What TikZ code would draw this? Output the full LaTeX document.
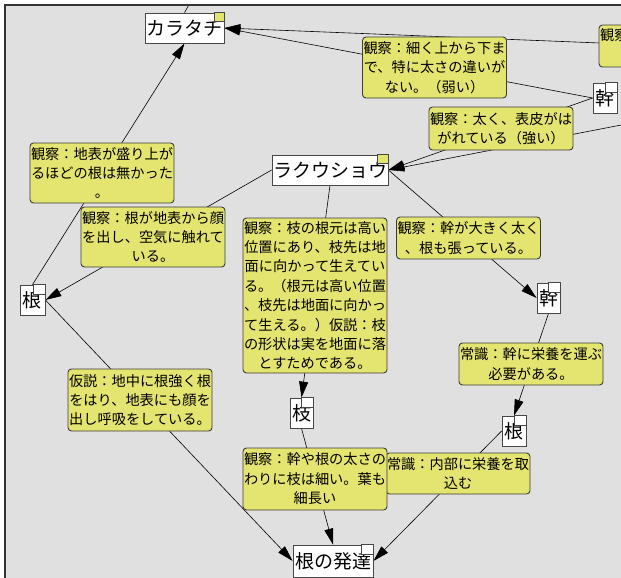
\documentclass[tikz,border=0pt]{standalone}
\usepackage{fontspec}
\newfontfamily\jp{Noto Sans CJK JP}
\usetikzlibrary{arrows.meta}
\definecolor{panel}{RGB}{224,224,224}
\definecolor{lblfill}{RGB}{228,228,112}
\definecolor{lblline}{RGB}{60,60,60}
\definecolor{nodeline}{RGB}{70,70,70}
\begin{document}
\begin{tikzpicture}[x=1pt,y=-1pt,
  lbl/.style={draw=lblline, fill=lblfill, rounded corners=3.5pt, line width=0.9pt, minimum width=144pt, inner sep=0pt, align=center, font=\jp\fontsize{14.2}{19.4}\selectfont},
  lbltext/.style={inner sep=0pt, font=\jp\fontsize{14.2}{19.4}\selectfont},
  box/.style={draw=nodeline, fill=white, line width=0.8pt, inner sep=0pt, minimum height=30pt, font=\jp\fontsize{19}{22}\selectfont},
  edge/.style={draw=black, line width=0.6pt},
  arr/.style={edge, -{Triangle[length=16pt,width=9pt]}},
  cornery/.style={draw=nodeline, fill=lblfill, line width=0.6pt},
  cornerw/.style={draw=nodeline, fill=white, line width=0.6pt},
]
\useasboundingbox (0,0) rectangle (621,578);
\fill[white] (0,0) rectangle (621,578);
\fill[panel] (5,5) rectangle (621,578);
\begin{scope}
\clip (5,5) rectangle (621,578);
% nodes (placed first so that edges can refer to them; redrawn on top later)
\node[box, minimum width=79pt] (kara) at (184.5,28) {カラタチ};
\node[box, minimum width=116pt] (raku) at (330,170) {ラクウショウ};
\node[box, minimum width=24pt] (kanT) at (605,98) {幹};
\node[box, minimum width=25pt] (neL) at (32.5,300) {根};
\node[box, minimum width=23pt] (kanM) at (548.5,298) {幹};
\node[box, minimum width=23pt] (eda) at (301.5,413) {枝};
\node[box, minimum width=24pt] (neR) at (514,431) {根};
\node[box, minimum width=80pt, minimum height=32pt] (hat) at (333,561) {根の発達};
\coordinate (offA) at (760,49.4);
\coordinate (offB) at (760,98.2);
\coordinate (offC) at (203,-20);
% edges
\draw[arr] (kanT.west) -- (kara.east);
\draw[arr] (offA) -- (kara.east);
\draw[edge] (kara.north) -- (offC);
\draw[arr] (kanT.west) -- (raku.east);
\draw[arr] (offB) -- (raku.east);
\draw[arr] (neL.north) -- (kara.south);
\draw[arr] (raku.west) -- (neL.east);
\draw[arr] (raku.south) -- (eda.north);
\draw[arr] (raku.east) -- (kanM.west);
\draw[arr] (kanM.south) -- (neR.north);
\draw[arr] (neR.west) -- (hat.east);
\draw[arr] (eda.south) -- (hat.north);
\draw[arr] (neL.east) -- (hat.west);
% edge labels
\node[lbl, minimum height=61pt] (l1) at (434.5,67.5) {観察：細く上から下ま\\で、特に太さの違いが\\ない。（弱い）};
\node[lbl, minimum height=43pt] (l2) at (501,128.5) {観察：太く、表皮がは\\がれている（強い）};
\node[lbl, minimum height=42pt] (l3) at (671,46) {};
\node[lbltext, anchor=west] (l3t) at (600,35) {観察};
\node[lbl, minimum height=60pt] (l4) at (102,173) {観察：地表が盛り上が\\るほどの根は無かった\\。};
\node[lbl, minimum height=60pt] (l5) at (153,237) {観察：根が地表から顔\\を出し、空気に触れて\\いる。};
\node[lbl, minimum height=155pt] (l6) at (315,295.5) {観察：枝の根元は高い\\位置にあり、枝先は地\\面に向かって生えてい\\る。（根元は高い位置\\、枝先は地面に向かっ\\て生える。）仮説：枝\\の形状は実を地面に落\\とすためである。};
\node[lbl, minimum height=42pt] (l7) at (468.5,238) {観察：幹が大きく太く\\、根も張っている。};
\node[lbl, minimum height=42pt] (l8) at (531,364) {常識：幹に栄養を運ぶ\\必要がある。};
\node[lbl, minimum height=62pt] (l9) at (140,400) {仮説：地中に根強く根\\をはり、地表にも顔を\\出し呼吸をしている。};
\node[lbl, minimum height=41pt] (l11) at (458,473.5) {常識：内部に栄養を取\\込む};
\node[lbl, minimum height=62pt] (l10) at (315,479) {観察：幹や根の太さの\\わりに枝は細い。葉も\\細長い};
% redraw node boxes on top
\node[box, minimum width=79pt] at (184.5,28) {カラタチ};
\node[box, minimum width=116pt] at (330,170) {ラクウショウ};
\node[box, minimum width=24pt] at (605,98) {幹};
\node[box, minimum width=25pt] at (32.5,300) {根};
\node[box, minimum width=23pt] at (548.5,298) {幹};
\node[box, minimum width=23pt] at (301.5,413) {枝};
\node[box, minimum width=24pt] at (514,431) {根};
\node[box, minimum width=80pt, minimum height=32pt] at (333,561) {根の発達};
% corner markers
\draw[cornery] ([xshift=-10pt]kara.north east) rectangle ([yshift=-9pt]kara.north east);
\draw[cornery] ([xshift=-11pt]raku.north east) rectangle ([yshift=-9pt]raku.north east);
\draw[cornerw] ([xshift=-12pt]kanT.north east) rectangle ([yshift=-10pt]kanT.north east);
\draw[cornerw] ([xshift=-12pt]neL.north east) rectangle ([yshift=-10pt]neL.north east);
\draw[cornerw] ([xshift=-12pt]kanM.north east) rectangle ([yshift=-10pt]kanM.north east);
\draw[cornerw] ([xshift=-12pt]eda.north east) rectangle ([yshift=-10pt]eda.north east);
\draw[cornerw] ([xshift=-12pt]neR.north east) rectangle ([yshift=-10pt]neR.north east);
\draw[cornerw] ([xshift=-12pt]hat.north east) rectangle ([yshift=-10pt]hat.north east);
\end{scope}
\draw[line width=1.4pt, color=black!80] (5,578) -- (5,5) -- (621,5);
\end{tikzpicture}
\end{document}
